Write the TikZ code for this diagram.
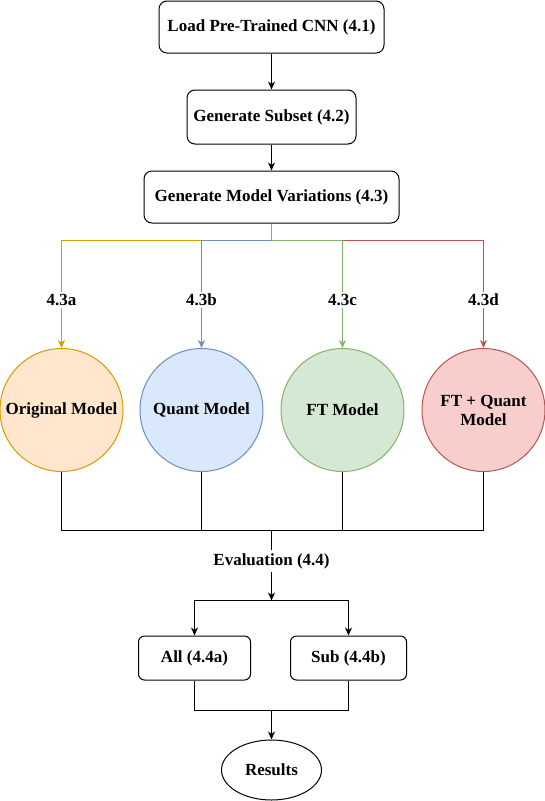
\documentclass[tikz,border=0pt]{standalone}
\usepackage{fontspec}
\setmainfont{Liberation Serif}
\usepackage{xcolor}
\usetikzlibrary{arrows.meta, positioning, calc, shapes.geometric}
\definecolor{orangeline}{HTML}{D79B00}
\definecolor{orangefill}{HTML}{FFE6CC}
\definecolor{blueline}{HTML}{6C8EBF}
\definecolor{bluefill}{HTML}{DAE8FC}
\definecolor{greenline}{HTML}{82B366}
\definecolor{greenfill}{HTML}{D5E8D4}
\definecolor{redline}{HTML}{B85450}
\definecolor{redfill}{HTML}{F8CECC}

\begin{document}
\begin{tikzpicture}[
    x=1pt, y=-1pt,
    every node/.style={font=\fontsize{17}{19}\selectfont\bfseries},
    stepbox/.style={draw, rounded corners=8pt, line width=1pt, inner sep=0pt, minimum height=52},
    model/.style={circle, draw, line width=1pt, minimum size=123, inner sep=0pt, align=center},
    tag/.style={fill=white, inner sep=2pt},
    link/.style={line width=1pt},
    arr/.style={-{Stealth[length=8pt, width=7pt, inset=2.5pt]}},
]
\useasboundingbox (0,0) rectangle (544,801);

% Top chain
\node[stepbox, minimum width=225] (load) at (271.5,27) {Load Pre-Trained CNN (4.1)};
\node[stepbox, minimum width=169, minimum height=54] (subset) at (271.5,117) {Generate Subset (4.2)};
\node[stepbox, minimum width=255] (vary) at (271.5,197) {Generate Model Variations (4.3)};
\draw[link, arr] (load) -- (subset);
\draw[link, arr] (subset) -- (vary);

% Model variations
\node[model, draw=orangeline, fill=orangefill] (orig) at (61.5,410) {Original Model};
\node[model, draw=blueline, fill=bluefill] (quant) at (201.5,410) {Quant Model};
\node[model, draw=greenline, fill=greenfill] (ft) at (342.5,410) {FT Model};
\node[model, draw=redline, fill=redfill] (ftq) at (483.5,410) {FT + Quant\\Model};

\node[tag] (lblA) at (61.5,300) {4.3a};
\node[tag] (lblB) at (201.5,300) {4.3b};
\node[tag] (lblC) at (342.5,300) {4.3c};
\node[tag] (lblD) at (483.5,300) {4.3d};

\coordinate (split) at (271.5,240.5);
\draw[link, orangeline] (vary.south -| split) -- (split);
\draw[link, orangeline] (split -| quant) -| (lblA);
\draw[link, blueline] (split) -| (lblB);
\draw[link, greenline] (split) -| (lblC);
\draw[link, redline] (split -| ft) -| (lblD);
\draw[link, arr, orangeline] (lblA) -- (orig);
\draw[link, arr, blueline] (lblB) -- (quant);
\draw[link, arr, greenline] (lblC) -- (ft);
\draw[link, arr, redline] (lblD) -- (ftq);

% Evaluation
\coordinate (join) at (271.5,530.5);
\coordinate (fork) at (271.5,600.5);
\node (eval) at (271.5,561) {Evaluation (4.4)};
\foreach \m in {orig, quant, ft, ftq}
    \draw[link] (\m.south) |- (join);
\draw[link] (join) -- (eval);
\draw[link, arr] (eval) -- (fork);

\node[stepbox, rounded corners=6pt, minimum width=112, minimum height=44] (all) at (194.5,658) {All (4.4a)};
\node[stepbox, rounded corners=6pt, minimum width=116, minimum height=44] (sub) at (348.5,658) {Sub (4.4b)};
\draw[link, arr] (fork) -| (all);
\draw[link, arr] (fork) -| (sub);

% Results
\coordinate (merge) at (271.5,710.5);
\node[ellipse, draw, line width=1pt, minimum width=100, minimum height=60, inner sep=0pt] (res) at (271.5,770) {Results};
\draw[link] (all.south) |- (merge);
\draw[link] (sub.south) |- (merge);
\draw[link, arr] (merge) -- (res);
\end{tikzpicture}
\end{document}
